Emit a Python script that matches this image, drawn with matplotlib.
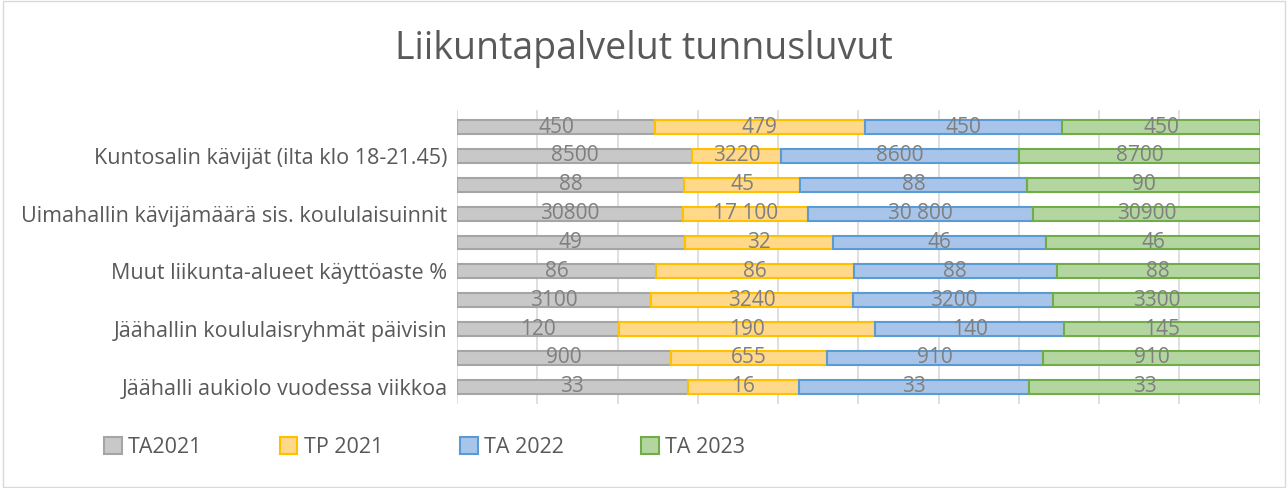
import matplotlib
matplotlib.use('Agg')
import numpy as np
import matplotlib.pyplot as plt
from matplotlib.patches import Rectangle

plt.rcParams['font.family'] = ['Open Sans', 'DejaVu Sans']

# categories from bottom to top (Excel skips every second label)
categories = [
    "Jäähalli aukiolo vuodessa viikkoa", "",
    "Jäähallin koululaisryhmät päivisin", "",
    "Muut liikunta-alueet käyttöaste %", "",
    "Uimahallin kävijämäärä sis. koululaisuinnit", "",
    "Kuntosalin kävijät (ilta klo 18-21.45)", "",
]
series_names = ["TA2021", "TP 2021", "TA 2022", "TA 2023"]
ta2021 = [33, 900, 120, 3100, 86, 49, 30800, 88, 8500, 450]
tp2021 = [16, 655, 190, 3240, 86, 32, 17100, 45, 3220, 479]
ta2022 = [33, 910, 140, 3200, 88, 46, 30800, 88, 8600, 450]
ta2023 = [33, 910, 145, 3300, 88, 46, 30900, 90, 8700, 450]
lbl_ta2021 = ["33", "900", "120", "3100", "86", "49", "30800", "88", "8500", "450"]
lbl_tp2021 = ["16", "655", "190", "3240", "86", "32", "17 100", "45", "3220", "479"]
lbl_ta2022 = ["33", "910", "140", "3200", "88", "46", "30 800", "88", "8600", "450"]
lbl_ta2023 = ["33", "910", "145", "3300", "88", "46", "30900", "90", "8700", "450"]

fills = ['#c8c8c8', '#ffd889', '#a8c5e9', '#b3d6a0']
edges = ['#a5a5a5', '#ffc000', '#5b9bd5', '#70ad47']
txt = '#595959'

data = np.array([ta2021, tp2021, ta2022, ta2023], dtype=float)
share = data / data.sum(axis=0)
labels = [lbl_ta2021, lbl_tp2021, lbl_ta2022, lbl_ta2023]

fig = plt.figure(figsize=(12.88, 4.88), dpi=100)
fig.patches.append(Rectangle((0.002, 0.003), 0.996, 0.994, transform=fig.transFigure,
                             fill=False, edgecolor='#d9d9d9', lw=1))
ax = fig.add_axes([0.355, 0.172, 0.623, 0.603])

y = np.arange(len(categories))
left = np.zeros(len(categories))
for i in range(4):
    ax.barh(y, share[i], left=left, height=0.48, color=fills[i],
            edgecolor=edges[i], linewidth=1.5, label=series_names[i], zorder=3)
    for j in range(len(categories)):
        ax.text(left[j] + share[i][j] / 2, y[j], labels[i][j], ha='center',
                va='center', fontsize=15, color='#7f7f7f', zorder=4)
    left += share[i]

ax.set_xlim(0, 1)
ax.set_ylim(-0.6, len(categories) - 0.4)
ax.set_xticks(np.arange(0, 1.01, 0.1))
ax.set_xticklabels([])
ax.tick_params(length=0)
ax.grid(axis='x', color='#d9d9d9', lw=1.2, zorder=0)
ax.set_yticks(y)
ax.set_yticklabels(categories, fontsize=15.5, color=txt)
ax.tick_params(axis='y', pad=7)
for s in ax.spines.values():
    s.set_visible(False)

fig.text(0.5, 0.9, "Liikuntapalvelut tunnusluvut", ha='center', va='center',
         fontsize=27, color=txt)

leg = fig.legend(loc='center left', bbox_to_anchor=(0.066, 0.083), ncol=4, frameon=False,
                 fontsize=15.5, handlelength=0.8, handleheight=0.8, handletextpad=0.3,
                 columnspacing=3.6, labelcolor=txt)

fig.savefig('out.png', dpi=100)
